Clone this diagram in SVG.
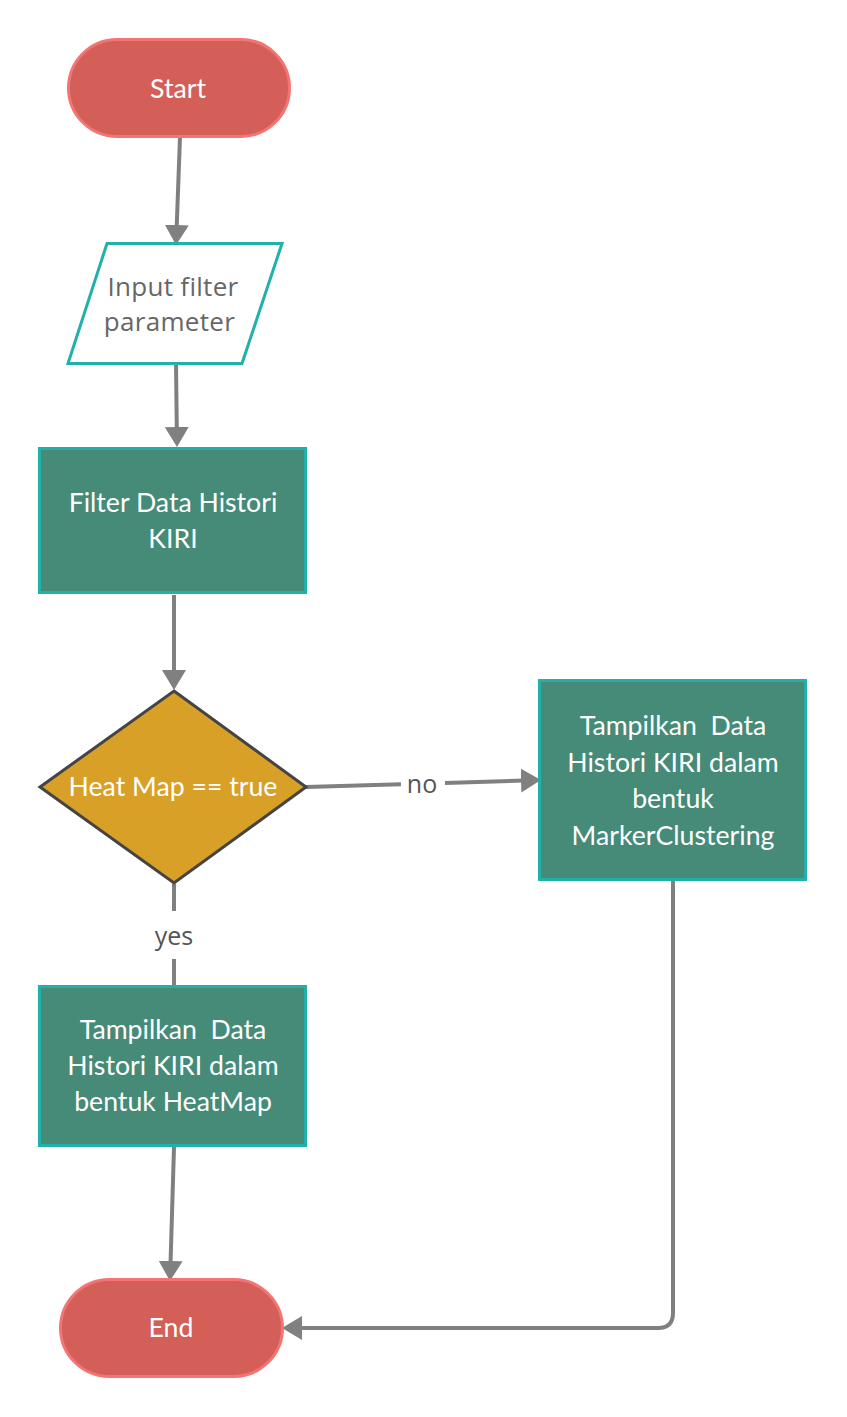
<svg xmlns="http://www.w3.org/2000/svg" width="847" height="1417" viewBox="0 0 847 1417">
<style>
  .term { fill: #d35f58; stroke: #f47474; stroke-width: 3; }
  .proc { fill: #458b78; stroke: #20b2aa; stroke-width: 3; }
  .io { fill: #ffffff; stroke: #20b2aa; stroke-width: 3; stroke-linejoin: miter; }
  .dec { fill: #d9a028; stroke: #444444; stroke-width: 3; stroke-linejoin: miter; }
  .lt { font-family: Lato, "Open Sans", "Liberation Sans", sans-serif; font-size: 26.67px; fill: #ffffff; text-anchor: middle; }
  .dt { font-family: "Open Sans", "Noto Sans", "Liberation Sans", sans-serif; font-size: 26px; letter-spacing: 0.3px; fill: #666666; text-anchor: middle; }
  .el { font-family: "Open Sans", "Noto Sans", "Liberation Sans", sans-serif; font-size: 25px; fill: #555555; text-anchor: middle; }
  .conn { fill: none; stroke: #808080; stroke-width: 4; }
</style>
<defs>
  <marker id="arr" markerUnits="userSpaceOnUse" markerWidth="20" markerHeight="24" refX="10" refY="12" orient="auto">
    <path d="M0,0 L20,12 L0,24 Z" fill="#808080"/>
  </marker>
</defs>
<rect width="847" height="1417" fill="#ffffff"/>

<g id="connectors">
  <path class="conn" d="M180,137 L176.4,235" marker-end="url(#arr)"/>
  <path class="conn" d="M176,364 L176.9,437" marker-end="url(#arr)"/>
  <path class="conn" d="M174,595 L174,680" marker-end="url(#arr)"/>
  <path class="conn" d="M306,787 L401,784.2"/>
  <path class="conn" d="M445,782.9 L531,780.3" marker-end="url(#arr)"/>
  <path class="conn" d="M174,884 L174,911"/>
  <path class="conn" d="M174,959 L174,986"/>
  <path class="conn" d="M174,1147 L170.3,1271" marker-end="url(#arr)"/>
  <path class="conn" d="M673,881 L673,1313 Q673,1328 658,1328 L292,1328" marker-end="url(#arr)"/>
  <text class="el" x="422" y="793">no</text>
  <text class="el" x="174" y="945">yes</text>
</g>

<g id="start">
  <rect class="term" x="68.5" y="39.5" width="221" height="97" rx="48.5" ry="48.5"/>
  <text class="lt" x="178" y="98">Start</text>
</g>

<g id="input">
  <polygon class="io" points="107,243.5 282,243.5 242,363.5 68,363.5"/>
  <text class="dt" x="173" y="296">Input filter</text>
  <text class="dt" x="169.5" y="331">parameter</text>
</g>

<g id="filter">
  <rect class="proc" x="39.5" y="448.5" width="266" height="144"/>
  <text class="lt" x="173" y="512">Filter Data Histori</text>
  <text class="lt" x="173" y="548">KIRI</text>
</g>

<g id="decision">
  <polygon class="dec" points="174,691 306,787 174,883 40,787"/>
  <text class="lt" x="173" y="796">Heat Map == true</text>
</g>

<g id="marker">
  <rect class="proc" x="539.5" y="680.5" width="266" height="199"/>
  <text class="lt" x="673" y="735" xml:space="preserve">Tampilkan  Data</text>
  <text class="lt" x="673" y="772">Histori KIRI dalam</text>
  <text class="lt" x="673" y="808">bentuk</text>
  <text class="lt" x="673" y="845">MarkerClustering</text>
</g>

<g id="heatmap">
  <rect class="proc" x="39.5" y="986.5" width="266" height="159"/>
  <text class="lt" x="173" y="1039" xml:space="preserve">Tampilkan  Data</text>
  <text class="lt" x="173" y="1075">Histori KIRI dalam</text>
  <text class="lt" x="173" y="1111">bentuk HeatMap</text>
</g>

<g id="end">
  <rect class="term" x="60.5" y="1279.5" width="222" height="97" rx="49" ry="48.5"/>
  <text class="lt" x="171" y="1337">End</text>
</g>
</svg>
